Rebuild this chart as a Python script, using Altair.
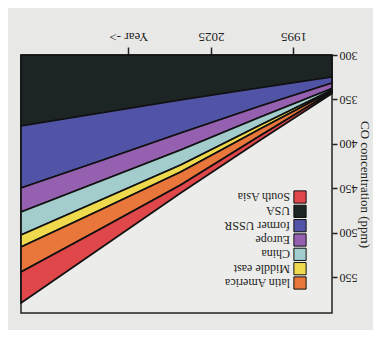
import altair as alt
import pandas as pd

# Picture is shown rotated by 180 degrees: time runs right-to-left, ppm top-to-bottom
years = [1981, 2007, 2036, 2065, 2094]
base_ppm = 300

regions = ["USA", "former USSR", "Europe", "China", "Middle east", "latin America", "South Asia"]
usa = [24.7, 36.8, 50.6, 65.2, 79.8]
former_ussr = [6.8, 20.5, 37.1, 53.6, 69.7]
europe = [6.2, 12.4, 19.1, 22.8, 27.0]
china = [1.6, 9.0, 16.8, 21.4, 25.8]
middle_east = [1.2, 4.3, 7.9, 10.9, 13.5]
latin_america = [1.1, 7.4, 14.6, 21.4, 28.1]
south_asia = [1.7, 5.1, 9.0, 21.6, 34.9]
series = [usa, former_ussr, europe, china, middle_east, latin_america, south_asia]

colors = ["#1d2524", "#5153a6", "#9660b0", "#a3cccc", "#efd94c", "#e9763a", "#e0474a"]
legend_order = ["South Asia", "USA", "former USSR", "Europe", "China", "Middle east", "latin America"]

x_ticks = [1995, 2025, 2055]
y_ticks = [300, 350, 400, 450, 500, 550]

rows = []
for i, yr in enumerate(years):
    lower = base_ppm
    for name, vals in zip(regions, series):
        upper = lower + vals[i]
        rows.append({"year": yr, "region": name, "lo": lower, "hi": upper})
        lower = upper
df = pd.DataFrame(rows)
legend_df = pd.DataFrame({"region": legend_order})

FONT = "Liberation Serif"
W, H = 311, 258

color_scale = alt.Scale(domain=regions, range=colors)

areas = alt.Chart(df).mark_area(stroke="#111111", strokeWidth=1.7, strokeJoin="round").encode(
    x=alt.X("year:Q", scale=alt.Scale(domain=[1981, 2094], reverse=True, nice=False, zero=False),
            axis=alt.Axis(orient="top", values=x_ticks, format="d",
                          labelExpr="datum.value == 2055 ? 'Year ->' : datum.label",
                          labelAngle=180, labelBaseline="top", labelAlign="center",
                          tickSize=8, tickWidth=1.5, tickColor="#222", labelPadding=5,
                          domain=False, grid=False, title=None,
                          labelFont=FONT, labelFontSize=13, labelColor="#222")),
    y=alt.Y("hi:Q", scale=alt.Scale(domain=[300, 590], reverse=True, nice=False, zero=False),
            axis=alt.Axis(orient="right", values=y_ticks, labelAngle=180, labelAlign="right",
                          labelBaseline="middle", tickSize=5, tickWidth=1.5, tickColor="#222",
                          labelPadding=2, domain=False, grid=False,
                          title="CO concentration (ppm)", titleAngle=90, titlePadding=0,
                          titleFont=FONT, titleFontSize=13, titleFontWeight="normal",
                          titleColor="#222",
                          labelFont=FONT, labelFontSize=12, labelColor="#222")),
    y2="lo:Q",
    color=alt.Color("region:N", scale=color_scale, legend=None),
    detail="region:N",
)

leg_y = alt.Y("region:N", scale=alt.Scale(type="point", domain=legend_order, range=[142, 228], padding=0),
              axis=None)

leg_boxes = alt.Chart(legend_df).mark_square(size=150, opacity=1, stroke="#111", strokeWidth=1).encode(
    x=alt.value(279),
    y=leg_y,
    color=alt.Color("region:N", scale=color_scale, legend=None),
)

leg_text = alt.Chart(legend_df).mark_text(angle=180, align="left", baseline="middle",
                                          font=FONT, fontSize=12, color="#222").encode(
    x=alt.value(269),
    y=leg_y,
    text="region:N",
)

chart = alt.layer(areas, leg_boxes, leg_text).resolve_scale(y="independent").properties(
    width=W, height=H,
    background="#e8e8e6",
    padding={"left": 13, "top": 47, "right": 41, "bottom": 17},
    autosize=alt.AutoSizeParams(type="none"),
).configure_view(stroke="#222", strokeWidth=1.5, fill="#ececea")

chart.save("out.html", embed_options={"renderer": "svg", "actions": False})
